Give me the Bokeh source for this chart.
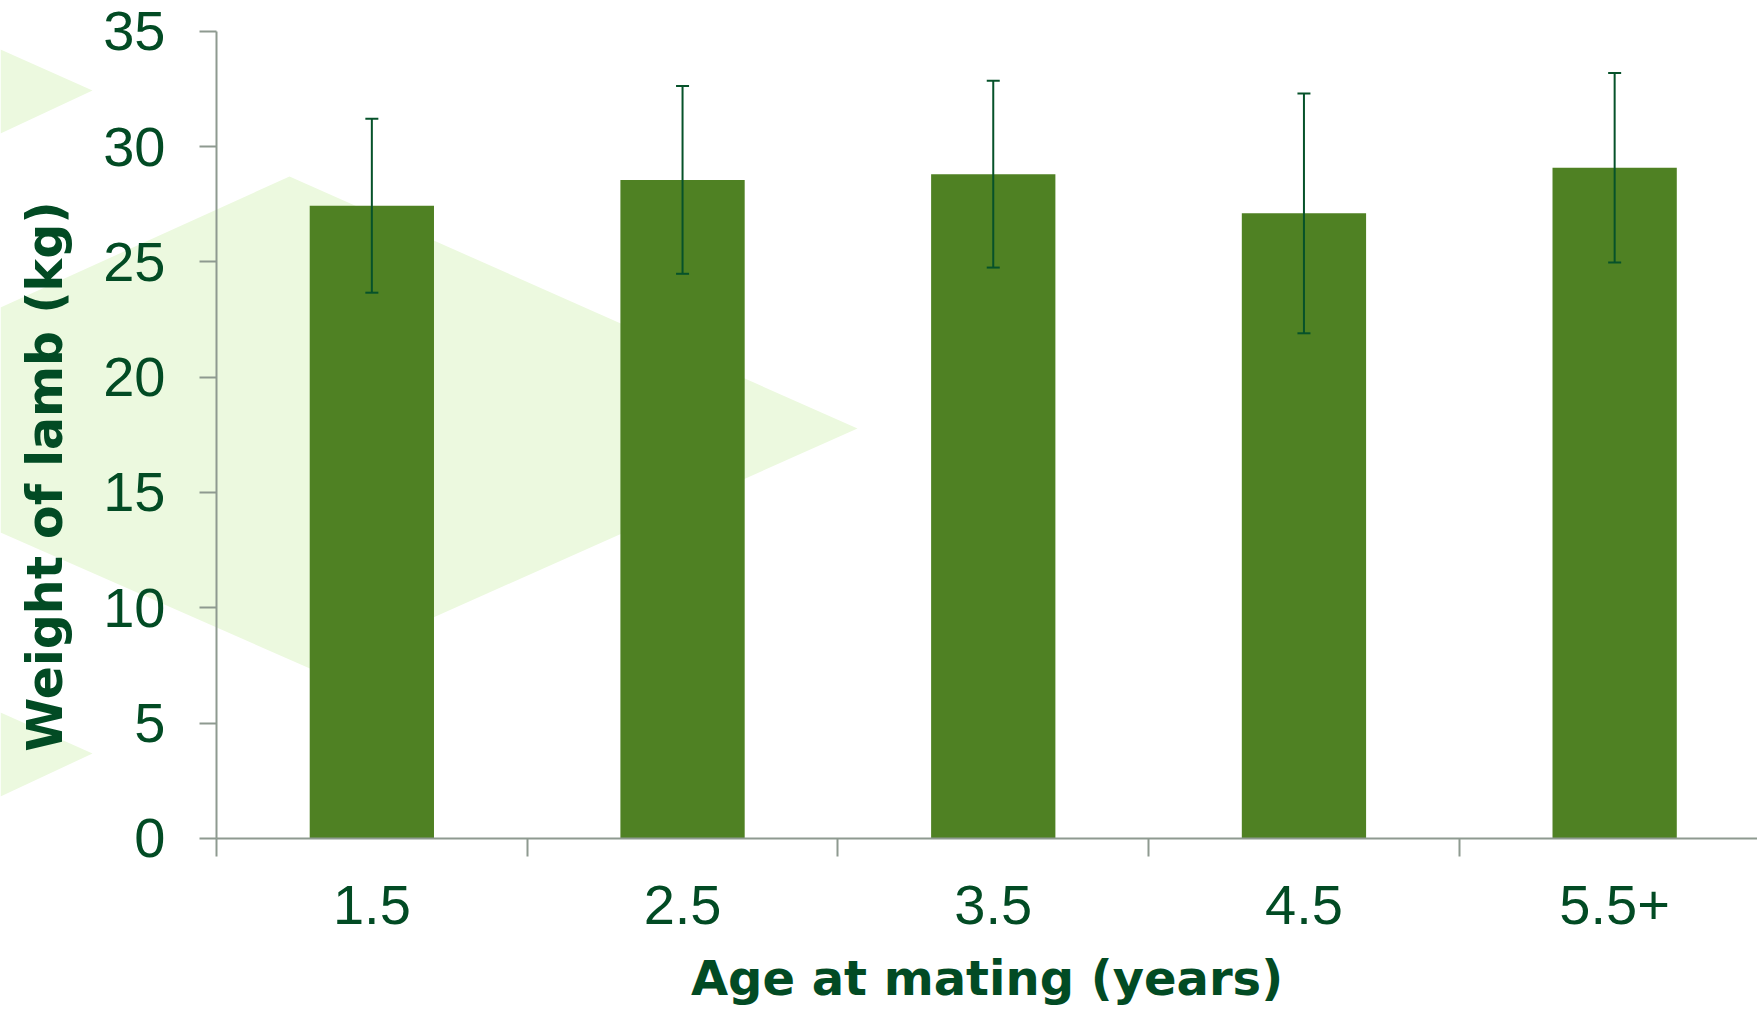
import math
from bokeh.plotting import figure
from bokeh.models import Range1d, FixedTicker, Label
from bokeh.embed import file_html
from bokeh.resources import INLINE

# ---- data -------------------------------------------------------------
categories = ["1.5", "2.5", "3.5", "4.5", "5.5+"]
mean_weight = [27.43, 28.55, 28.8, 27.1, 29.08]     # kg
error_kg = [3.77, 4.07, 4.05, 5.2, 4.11]            # +/- error
y_ticks = [0, 5, 10, 15, 20, 25, 30, 35]
x_title = "Age at mating (years)"
y_title = "Weight of lamb (kg)"

# ---- style ------------------------------------------------------------
BAR = "#4F8123"
TEXT = "#024B24"
ERR = "#06522A"
AXIS = "#8E9A90"
LIGHT = "#ECF9DF"

W, H = 1757, 1010
# page-pixel geometry of the plotting area (axis origin and scale)
ORIGIN_X, ORIGIN_Y = 216.0, 837.8
PX_PER_CAT, PX_PER_KG = 310.7, 23.06


def to_data(px, py):
    return (px - ORIGIN_X) / PX_PER_CAT, (ORIGIN_Y - py) / PX_PER_KG


x_start, y_end = to_data(0, 0)
x_end, y_start = to_data(W, H)

p = figure(width=W, height=H, output_backend="svg", toolbar_location=None,
           x_range=Range1d(x_start, x_end), y_range=Range1d(y_start, y_end),
           min_border=0, min_border_left=0, min_border_right=0,
           min_border_top=0, min_border_bottom=0,
           outline_line_color=None, background_fill_color="white",
           border_fill_color="white")
p.xgrid.visible = False
p.ygrid.visible = False

# ---- decorative background chevrons (outlines in page pixels) ---------
decor_px = [
    [(0, 49), (92, 90), (0, 133)],
    [(0, 307), (289, 176), (857, 428), (314, 670), (0, 532)],
    [(0, 712), (92, 753), (0, 796)],
]
for shape in decor_px:
    pts = [to_data(px, py) for px, py in shape]
    p.patch([a for a, _ in pts], [b for _, b in pts],
            fill_color=LIGHT, line_color=None, level="underlay")

# ---- bars and error bars ---------------------------------------------
centers = [i + 0.5 for i in range(len(categories))]
lo = [m - e for m, e in zip(mean_weight, error_kg)]
hi = [m + e for m, e in zip(mean_weight, error_kg)]

p.vbar(x=centers, top=mean_weight, bottom=0, width=0.4,
       fill_color=BAR, line_color=None)
p.segment(x0=centers, y0=lo, x1=centers, y1=hi,
          line_color=ERR, line_width=2)
p.scatter(x=centers + centers, y=lo + hi, marker="dash", size=13,
          line_color=ERR, line_width=2)

# ---- axes --------------------------------------------------------------
xa = p.xaxis[0]
xa.fixed_location = 0
xa.bounds = (0, x_end)
xa.ticker = FixedTicker(ticks=centers, minor_ticks=list(range(len(categories) + 1)))
xa.major_label_overrides = {c: lab for c, lab in zip(centers, categories)}
xa.major_tick_line_color = None
xa.major_tick_out = 18
xa.major_tick_in = 0
xa.minor_tick_line_color = AXIS
xa.minor_tick_line_width = 2
xa.minor_tick_out = 18
xa.minor_tick_in = 0
xa.axis_line_color = AXIS
xa.axis_line_width = 2
xa.major_label_text_font = "Liberation Sans"
xa.major_label_text_font_size = "56px"
xa.major_label_text_color = TEXT
xa.major_label_standoff = 30
xa.axis_label = x_title
xa.axis_label_text_font = "DejaVu Sans"
xa.axis_label_text_font_style = "bold"
xa.axis_label_text_font_size = "48px"
xa.axis_label_text_color = TEXT
xa.axis_label_standoff = 22

ya = p.yaxis[0]
ya.fixed_location = 0
ya.bounds = (0, 35)
ya.ticker = FixedTicker(ticks=y_ticks, minor_ticks=[])
ya.major_tick_line_color = AXIS
ya.major_tick_line_width = 2
ya.major_tick_out = 17
ya.major_tick_in = 0
ya.minor_tick_line_color = None
ya.axis_line_color = AXIS
ya.axis_line_width = 2
ya.major_label_text_font = "Liberation Sans"
ya.major_label_text_font_size = "56px"
ya.major_label_text_color = TEXT
ya.major_label_standoff = 34

# y-axis title, placed where the reference centres it
tx, ty = to_data(45, 476)
p.add_layout(Label(x=tx, y=ty, x_units="data", y_units="data", text=y_title,
                   angle=math.pi / 2, text_align="center",
                   text_baseline="alphabetic", text_font="DejaVu Sans",
                   text_font_style="bold", text_font_size="49px",
                   text_color=TEXT))

open("out.html", "w").write(file_html(p, INLINE))
